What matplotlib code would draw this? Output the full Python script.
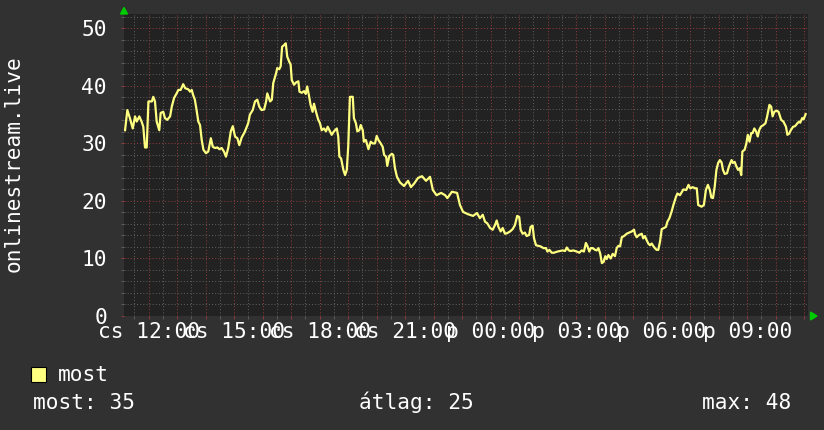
import matplotlib
matplotlib.use("Agg")
import matplotlib.pyplot as plt
import matplotlib.transforms as mtransforms
from matplotlib.ticker import MultipleLocator
from matplotlib.patches import Rectangle, Polygon

# ---- data (time in hours since day-1 00:00, value) ----
times = [
    11.17, 11.25, 11.34, 11.44, 11.52, 11.58, 11.67, 11.75, 11.81, 11.87, 11.93, 11.99,
    12.11, 12.16, 12.22, 12.28, 12.37, 12.42, 12.51, 12.57, 12.65, 12.75, 12.81, 12.89,
    12.98, 13.04, 13.12, 13.21, 13.28, 13.39, 13.45, 13.51, 13.56, 13.62, 13.68, 13.74,
    13.80, 13.86, 13.92, 14.01, 14.09, 14.18, 14.25, 14.33, 14.41, 14.48, 14.56, 14.64,
    14.71, 14.79, 14.88, 14.95, 15.03, 15.11, 15.18, 15.26, 15.37, 15.49, 15.55, 15.65,
    15.73, 15.81, 15.88, 15.96, 16.05, 16.12, 16.16, 16.26, 16.32, 16.37, 16.47, 16.51,
    16.58, 16.63, 16.68, 16.75, 16.81, 16.86, 16.93, 16.98, 17.02, 17.10, 17.17, 17.25,
    17.29, 17.37, 17.45, 17.51, 17.56, 17.62, 17.68, 17.75, 17.80, 17.87, 17.95, 18.01,
    18.07, 18.15, 18.22, 18.28, 18.34, 18.42, 18.50, 18.60, 18.65, 18.69, 18.75, 18.83,
    18.89, 18.95, 19.00, 19.06, 19.16, 19.20, 19.27, 19.32, 19.39, 19.44, 19.51, 19.55,
    19.62, 19.71, 19.79, 19.86, 19.94, 20.00, 20.06, 20.14, 20.21, 20.26, 20.33, 20.37,
    20.44, 20.53, 20.58, 20.64, 20.71, 20.82, 20.96, 21.10, 21.20, 21.31, 21.45, 21.59,
    21.73, 21.87, 21.97, 22.10, 22.26, 22.40, 22.48, 22.64, 22.82, 22.92, 23.03, 23.20,
    23.38, 23.52, 23.62, 23.72, 23.80, 23.88, 23.98, 24.07, 24.15, 24.21, 24.27, 24.35,
    24.42, 24.50, 24.58, 24.68, 24.77, 24.85, 24.93, 25.00, 25.05, 25.12, 25.20, 25.26,
    25.35, 25.40, 25.47, 25.52, 25.59, 25.67, 25.75, 25.85, 25.94, 25.99, 26.06, 26.14,
    26.22, 26.34, 26.43, 26.53, 26.61, 26.67, 26.74, 26.81, 26.90, 27.02, 27.11, 27.19,
    27.27, 27.34, 27.39, 27.46, 27.51, 27.58, 27.66, 27.72, 27.78, 27.84, 27.90, 27.96,
    28.02, 28.07, 28.13, 28.21, 28.28, 28.36, 28.42, 28.48, 28.54, 28.60, 28.68, 28.77,
    28.86, 28.95, 29.03, 29.06, 29.12, 29.21, 29.30, 29.35, 29.41, 29.47, 29.53, 29.59,
    29.65, 29.70, 29.76, 29.82, 29.88, 29.94, 30.00, 30.08, 30.15, 30.20, 30.27, 30.35,
    30.41, 30.50, 30.55, 30.64, 30.76, 30.86, 30.94, 31.00, 31.09, 31.17, 31.23, 31.28,
    31.40, 31.48, 31.55, 31.62, 31.69, 31.74, 31.80, 31.86, 31.92, 31.98, 32.04, 32.10,
    32.15, 32.21, 32.29, 32.36, 32.45, 32.50, 32.56, 32.62, 32.68, 32.74, 32.79, 32.83,
    32.91, 32.97, 33.02, 33.08, 33.14, 33.19, 33.25, 33.31, 33.37, 33.42, 33.48, 33.57,
    33.64, 33.70, 33.78, 33.84, 33.89, 33.95, 34.03, 34.10, 34.19, 34.27, 34.36, 34.41,
    34.47, 34.53, 34.61, 34.68, 34.76, 34.82, 34.86, 34.93, 34.98, 35.05,
]
values = [
    32.3, 35.8, 34.4, 32.6, 34.7, 33.8, 34.7, 33.8, 32.9, 29.3, 29.3, 37.3,
    37.3, 38.1, 37.3, 33.8, 32.3, 35.3, 35.5, 34.4, 34.1, 34.7, 36.4, 37.9,
    38.7, 39.3, 39.3, 40.3, 39.6, 39.4, 39.0, 39.3, 38.4, 37.6, 35.8, 33.8,
    33.2, 30.6, 28.9, 28.3, 28.6, 30.9, 29.4, 29.2, 29.3, 29.0, 29.2, 28.6,
    27.7, 29.2, 32.1, 33.0, 31.2, 30.9, 29.7, 31.0, 32.0, 33.5, 35.0, 35.8,
    37.3, 37.6, 36.4, 35.8, 35.9, 37.3, 38.7, 37.3, 37.6, 40.5, 42.2, 43.1,
    42.9, 43.4, 46.8, 47.1, 47.4, 45.1, 44.2, 43.7, 41.0, 40.2, 40.6, 40.8,
    39.0, 38.8, 39.1, 38.6, 39.9, 38.4, 36.7, 35.5, 36.9, 35.5, 34.1, 33.5,
    32.3, 32.6, 32.1, 32.9, 32.3, 31.5, 32.1, 32.6, 31.2, 27.7, 27.4, 25.4,
    24.5, 25.4, 29.4, 38.1, 38.1, 34.4, 33.5, 32.1, 32.3, 33.2, 32.3, 30.3,
    30.6, 29.0, 30.3, 30.0, 30.0, 31.3, 30.6, 30.0, 29.4, 28.0, 27.7, 26.1,
    27.8, 28.2, 28.0, 25.7, 24.2, 23.2, 22.6, 23.5, 22.4, 23.0, 24.0, 24.3,
    23.5, 24.2, 21.9, 21.0, 21.4, 21.0, 20.5, 21.6, 21.4, 19.3, 18.1, 17.7,
    17.4, 17.9, 17.0, 17.6, 16.4, 16.1, 15.3, 15.0, 15.8, 16.6, 15.5, 14.7,
    15.3, 14.3, 14.4, 14.7, 15.1, 15.8, 17.4, 17.2, 15.0, 14.3, 14.5, 13.9,
    14.1, 15.5, 15.7, 13.5, 12.3, 12.2, 12.1, 11.8, 11.8, 11.2, 11.5, 11.0,
    11.0, 11.2, 11.3, 11.4, 11.3, 11.9, 11.4, 11.3, 11.4, 11.2, 11.0, 11.4,
    11.2, 12.7, 12.2, 11.2, 11.8, 11.8, 11.5, 11.4, 11.8, 10.9, 9.2, 9.4,
    10.4, 9.9, 10.6, 10.0, 10.8, 10.4, 11.8, 12.2, 12.1, 13.7, 13.9, 14.3,
    14.5, 14.7, 15.0, 14.3, 13.7, 14.1, 14.3, 13.5, 13.9, 13.2, 12.6, 12.3,
    12.6, 12.2, 11.8, 11.5, 11.5, 12.9, 15.1, 15.3, 15.5, 16.4, 17.0, 18.2,
    19.3, 20.7, 21.3, 21.0, 22.0, 21.9, 22.8, 22.2, 22.4, 22.2, 22.2, 19.3,
    19.0, 19.3, 21.9, 22.8, 21.9, 20.6, 20.5, 22.5, 25.4, 26.6, 27.1, 26.7,
    25.4, 24.7, 24.8, 26.0, 27.1, 26.6, 26.8, 26.0, 25.4, 25.7, 24.5, 28.6,
    28.9, 30.0, 31.5, 30.3, 31.8, 31.8, 32.6, 32.1, 31.2, 32.3, 32.9, 33.2,
    33.5, 34.7, 36.7, 36.4, 34.7, 35.5, 35.7, 35.5, 34.1, 33.8, 32.9, 31.5,
    31.7, 32.3, 32.9, 33.0, 33.5, 33.8, 33.6, 34.4, 34.2, 35.1,
]

x_start, x_end = 11.133, 35.133
y_top = 52.5
y_ticks = [0, 10, 20, 30, 40, 50]
x_label_hours = [12, 15, 18, 21, 24, 27, 30, 33]
x_labels = ["cs 12:00", "cs 15:00", "cs 18:00", "cs 21:00",
            "p 00:00", "p 03:00", "p 06:00", "p 09:00"]
y_title = "onlinestream.live"
legend_name = "most"
stats = ["most: 35", "átlag: 25", "max: 48"]

# ---- style ----
BG = "#313131"
PLOT_BG = "#222222"
LINE = "#ffff80"
MINOR = "#5c5c5c"
MAJOR = "#8c3c3c"
TXT = "#ffffff"
FONT = "DejaVu Sans Mono"
FS = 15.2

W, H = 824, 430
fig = plt.figure(figsize=(W / 100, H / 100), dpi=100, facecolor=BG)
L, R, T, B = 124, 808, 14, 316
ax = fig.add_axes([L / W, (H - B) / H, (R - L) / W, (B - T) / H])
ax.set_facecolor(PLOT_BG)
ax.set_xlim(x_start, x_end)
ax.set_ylim(0, y_top)

ax.xaxis.set_major_locator(MultipleLocator(1))
ax.xaxis.set_minor_locator(MultipleLocator(0.5))
ax.yaxis.set_major_locator(MultipleLocator(10))
ax.yaxis.set_minor_locator(MultipleLocator(2))
ax.set_axisbelow(True)
ax.grid(which="minor", color=MINOR, lw=0.75, linestyle=(0, (1, 2)))
ax.grid(which="major", color=MAJOR, lw=0.75, linestyle=(0, (1, 2)))
ax.tick_params(which="both", labelbottom=False, labelleft=False,
               length=2, width=0.75, direction="out")
ax.tick_params(which="major", colors=MAJOR)
ax.tick_params(which="minor", colors=MINOR)
for s in ax.spines.values():
    s.set_visible(False)

ax.plot(times, values, color=LINE, lw=1.6, solid_joinstyle="round", zorder=3)

# y tick labels
ytr = mtransforms.offset_copy(ax.get_yaxis_transform(), fig=fig, x=-17, y=-7.7, units="dots")
for v in y_ticks:
    ax.text(0, v, str(v), transform=ytr, ha="right", va="baseline",
            color=TXT, fontsize=FS, family=FONT, clip_on=False)

# x tick labels (they overlap in the original rrdtool-style chart too)
xtr = mtransforms.offset_copy(ax.get_xaxis_transform(), fig=fig, x=0, y=-22.5, units="dots")
for h, lab in zip(x_label_hours, x_labels):
    ax.text(h, 0, lab, transform=xtr, ha="center", va="baseline",
            color=TXT, fontsize=FS, family=FONT, clip_on=False)

# y axis title
fig.text(14 / W, 1 - 164 / H, y_title, rotation=90, ha="center", va="center",
         color=TXT, fontsize=FS, family=FONT)

# green arrows
def px(x, y):
    return (x / W, 1 - y / H)

fig.patches.append(Polygon([px(120.5, 14), px(127.5, 14), px(124, 7.5)], closed=True,
                           transform=fig.transFigure, color="#00cc00"))
fig.patches.append(Polygon([px(810.5, 312), px(810.5, 320), px(817, 316)], closed=True,
                           transform=fig.transFigure, color="#00cc00"))

# legend
fig.patches.append(Rectangle(px(31.5, 381.5), 15 / W, 15 / H, transform=fig.transFigure,
                             facecolor=LINE, edgecolor="#000000", lw=0.8))
fig.text(58 / W, 1 - 381 / H, legend_name, ha="left", va="baseline",
         color=TXT, fontsize=FS, family=FONT)
fig.text(33 / W, 1 - 409 / H, stats[0], ha="left", va="baseline",
         color=TXT, fontsize=FS, family=FONT)
fig.text(359 / W, 1 - 409 / H, stats[1], ha="left", va="baseline",
         color=TXT, fontsize=FS, family=FONT)
fig.text(791 / W, 1 - 409 / H, stats[2], ha="right", va="baseline",
         color=TXT, fontsize=FS, family=FONT)

fig.savefig("out.png", dpi=100, facecolor=BG)
